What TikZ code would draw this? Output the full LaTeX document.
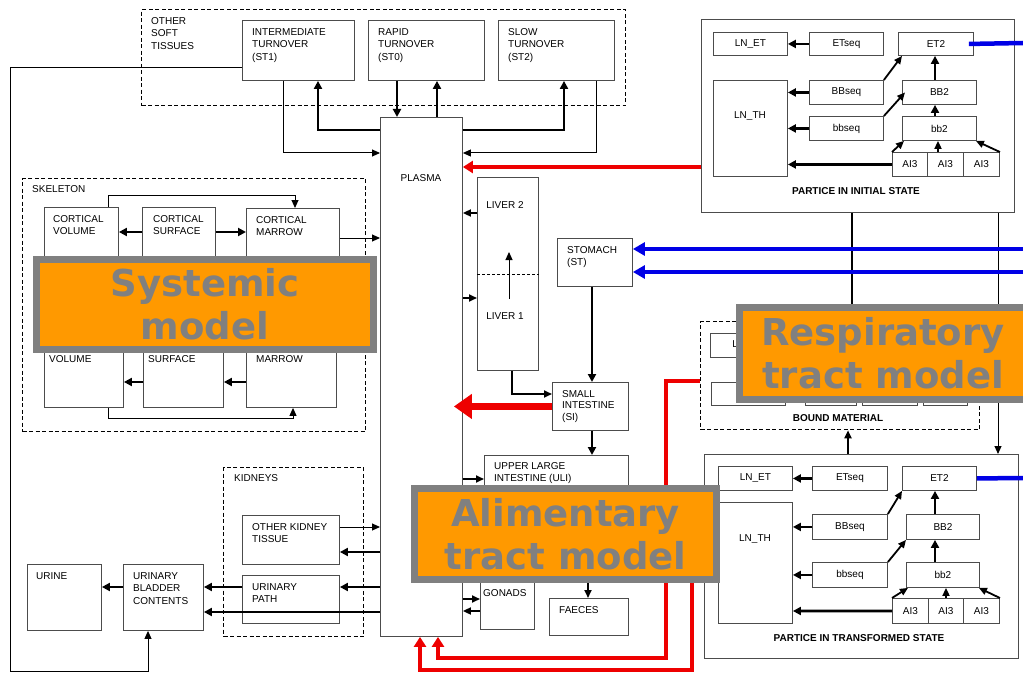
\documentclass[tikz,border=0pt]{standalone}
\usepackage{fontspec}
\setmainfont{Liberation Sans}
\newfontfamily\ovlfont{DejaVu Sans}
\usetikzlibrary{arrows.meta,calc}
\definecolor{ovlorange}{HTML}{FF9900}
\definecolor{ovlgrey}{HTML}{808080}
\definecolor{flowred}{HTML}{EE0000}
\definecolor{flowblue}{HTML}{0000E6}
\tikzset{
	box/.style={draw=black!70, line width=0.9pt, anchor=north west, inner sep=0pt, font=\fontsize{10}{12}\selectfont},
	grp/.style={draw=black, line width=1.3pt, dash pattern=on 4pt off 2.5pt, anchor=north west, inner sep=0pt},
	txt/.style={anchor=north west, inner sep=0pt, align=left, font=\fontsize{10}{12.8}\selectfont},
	captxt/.style={inner sep=0pt, font=\fontsize{10}{11}\selectfont\bfseries},
	ln/.style={line width=1pt, -{Triangle[length=8pt,width=7pt]}},
	midarr/.style={line width=1.8pt, -{Triangle[length=8pt,width=7pt]}},
	thk/.style={line width=2.6pt, -{Triangle[length=8pt,width=8pt]}},
	redln/.style={draw=flowred, line width=3.5pt, -{Triangle[length=10pt,width=12pt]}},
	bigred/.style={draw=flowred, line width=7.5pt, -{Triangle[length=18pt,width=24pt]}},
	blueln/.style={draw=flowblue, line width=4.5pt, -{Triangle[length=12pt,width=13pt]}},
	ovl/.style={draw=ovlgrey, fill=ovlorange, line width=7pt, inner sep=0pt, text=ovlgrey, align=center, font=\ovlfont\fontsize{37}{43}\selectfont\bfseries},
}
\begin{document}
\begin{tikzpicture}[x=1pt, y=-1pt]
			%%%%% START %%%%%
			\path[use as bounding box, fill=white] (0,0) rectangle (1023,674);
			
			% other soft tissues
			\node[grp, minimum width=484, minimum height=96] (ost) at (141,9) {};
			\node[txt] (ostt) at (151,17) {OTHER\\SOFT\\TISSUES};
			\node[box, minimum width=112, minimum height=60] (st1) at (242,20) {};
			\node[txt] (st1t) at (252,28) {INTERMEDIATE\\TURNOVER\\(ST1)};
			\node[box, minimum width=116, minimum height=60] (st0) at (368,20) {};
			\node[txt] (st0t) at (378,28) {RAPID\\TURNOVER\\(ST0)};
			\node[box, minimum width=116, minimum height=60] (st2) at (498,20) {};
			\node[txt] (st2t) at (508,28) {SLOW\\TURNOVER\\(ST2)};
			
			% plasma
			\node[box, minimum width=82, minimum height=519] (plasma) at (380,117) {};
			\node[txt, anchor=center] (plasmat) at (421,178) {PLASMA};
			
			% skeleton
			\node[grp, minimum width=343, minimum height=253] (skel) at (22,178) {};
			\node[txt] (skelt) at (32,185) {SKELETON};
			\node[box, minimum width=74, minimum height=85] (cv) at (44,207) {};
			\node[txt] (cvt) at (53,215) {CORTICAL\\VOLUME};
			\node[box, minimum width=73, minimum height=85] (cs) at (142,207) {};
			\node[txt] (cst) at (153,215) {CORTICAL\\SURFACE};
			\node[box, minimum width=93, minimum height=85] (cm) at (246,208) {};
			\node[txt] (cmt) at (256,216) {CORTICAL\\MARROW};
			\node[box, minimum width=79, minimum height=87] (tv) at (44,320) {};
			\node[txt] (tvt) at (49,355) {VOLUME};
			\node[box, minimum width=80, minimum height=87] (ts) at (143,320) {};
			\node[txt] (tst) at (148,355) {SURFACE};
			\node[box, minimum width=90, minimum height=87] (tm) at (246,320) {};
			\node[txt] (tmt) at (256,355) {MARROW};
			
			% kidneys and bladder
			\node[grp, minimum width=140, minimum height=169] (kid) at (223,467) {};
			\node[txt] (kidt) at (234,474) {KIDNEYS};
			\node[box, minimum width=97, minimum height=49] (okt) at (242,515) {};
			\node[txt] (oktt) at (252,523) {OTHER KIDNEY\\TISSUE};
			\node[box, minimum width=97, minimum height=48] (up) at (242,575) {};
			\node[txt] (upt) at (252,583) {URINARY\\PATH};
			\node[box, minimum width=74, minimum height=66] (urine) at (27,564) {};
			\node[txt] (urinet) at (36,572) {URINE};
			\node[box, minimum width=80, minimum height=66] (ubc) at (123,564) {};
			\node[txt] (ubct) at (133,572) {URINARY\\BLADDER\\CONTENTS};
			
			% liver and gut
			\node[box, minimum width=61, minimum height=193] (liver) at (477,177) {};
			\node[txt, anchor=center] (liver2t) at (505,205) {LIVER 2};
			\node[txt, anchor=center] (liver1t) at (505,316) {LIVER 1};
			\draw[line width=1pt, dash pattern=on 3pt off 2pt] (liver.west |- 0,274) -- (liver.east |- 0,274);
			\coordinate (lv1) at (509,299);
			\coordinate (lv2) at (509,252);
			\node[box, minimum width=75, minimum height=48] (stom) at (557,238) {};
			\node[txt] (stomt) at (567,246) {STOMACH\\(ST)};
			\node[box, minimum width=76, minimum height=48] (si) at (552,382) {};
			\node[txt, font=\fontsize{10}{11.8}\selectfont] (sit) at (562,390) {SMALL\\INTESTINE\\(SI)};
			\node[box, minimum width=144, minimum height=75] (uli) at (484,455) {};
			\node[txt] (ulit) at (494,462) {UPPER LARGE\\INTESTINE (ULI)};
			\node[box, minimum width=54, minimum height=89] (gon) at (480,540) {};
			\node[txt] (gont) at (483,589) {GONADS};
			\node[box, minimum width=79, minimum height=37] (faec) at (549,598) {};
			\node[txt] (faect) at (559,606) {FAECES};
			\coordinate (lliout) at (588,565);
			
			% respiratory, initial state
			\node[box, minimum width=313, minimum height=193] (init) at (701,19) {};
			\node[captxt] (initt) at (856,191) {PARTICE IN INITIAL STATE};
			\node[box, minimum width=74, minimum height=23] (iLNET) at (713,32) {LN\_ET};
			\node[box, minimum width=74, minimum height=23] (iETseq) at (809,32) {ETseq};
			\node[box, minimum width=75, minimum height=23] (iET2) at (898,32) {ET2};
			\node[box, minimum width=74, minimum height=96] (iLNTH) at (713,80) {};
			\node[txt, anchor=center] (iLNTHt) at (750,116) {LN\_TH};
			\node[box, minimum width=74, minimum height=24] (iBBseq) at (809,80) {BBseq};
			\node[box, minimum width=74, minimum height=24] (iBB2) at (902,80) {BB2};
			\node[box, minimum width=74, minimum height=24] (ibbseq) at (809,116) {bbseq};
			\node[box, minimum width=74, minimum height=24] (ibb2) at (902,116) {bb2};
			\node[box, minimum width=35, minimum height=24] (iAIa) at (892,152) {AI3};
			\node[box, minimum width=36, minimum height=24] (iAIb) at (927,152) {AI3};
			\node[box, minimum width=36, minimum height=24] (iAIc) at (963,152) {AI3};
			
			% respiratory, bound material
			\node[grp, minimum width=279, minimum height=108] (bm) at (700,321) {};
			\node[captxt] (bmt) at (838,418) {BOUND MATERIAL};
			\node[box, minimum width=75, minimum height=24] (bLNET) at (710,333) {LN\_ET};
			\node[box, minimum width=74, minimum height=23] (bA) at (711,382) {};
			\node[box, minimum width=51, minimum height=23] (bB) at (805,382) {};
			\node[box, minimum width=55, minimum height=23] (bC) at (862,382) {};
			\node[box, minimum width=44, minimum height=23] (bD) at (923,382) {};
			
			% respiratory, transformed state
			\node[box, minimum width=314, minimum height=204] (trans) at (704,454) {};
			\node[captxt] (transt) at (859,638) {PARTICE IN TRANSFORMED STATE};
			\node[box, minimum width=74, minimum height=24] (tLNET) at (718,466) {LN\_ET};
			\node[box, minimum width=75, minimum height=24] (tETseq) at (812,466) {ETseq};
			\node[box, minimum width=74, minimum height=24] (tET2) at (902,466) {ET2};
			\node[box, minimum width=74, minimum height=121] (tLNTH) at (718,502) {};
			\node[txt, anchor=center] (tLNTHt) at (755,539) {LN\_TH};
			\node[box, minimum width=75, minimum height=25] (tBBseq) at (812,514) {BBseq};
			\node[box, minimum width=73, minimum height=25] (tBB2) at (906,514) {BB2};
			\node[box, minimum width=75, minimum height=25] (tbbseq) at (812,562) {bbseq};
			\node[box, minimum width=73, minimum height=25] (tbb2) at (906,562) {bb2};
			\node[box, minimum width=36, minimum height=25] (tAIa) at (892,598) {AI3};
			\node[box, minimum width=35, minimum height=25] (tAIb) at (928,598) {AI3};
			\node[box, minimum width=36, minimum height=25] (tAIc) at (963,598) {AI3};
			
			\coordinate (edge1) at (1023,43);
			\coordinate (edge2) at (1023,249);
			\coordinate (edge3) at (1023,272);
			\coordinate (edge4) at (1023,478);
			\coordinate (redsrc) at (692,560);
			
			% soft tissue flows
			\draw[ln] (st1.south -| 283,0) |- (plasma.west |- 0,153);
			\draw[thk] (plasma.west |- 0,130) -| (st1.south -| 318,0);
			\draw[thk] (st0.south -| 397,0) -- (plasma.north -| 397,0);
			\draw[thk] (plasma.north -| 437,0) -- (st0.south -| 437,0);
			\draw[thk] (plasma.east |- 0,130) -| (st2.south -| 564,0);
			\draw[ln] (st2.south -| 596,0) |- (plasma.east |- 0,153);
			\draw[ln] (st1.west |- 0,68) -| (10,671) -| (ubc.south -| 148,0);
			
			% skeleton flows
			\draw[thk] (cs.west |- 0,232) -- (cv.east |- 0,232);
			\draw[thk] (cs.east |- 0,232) -- (cm.west |- 0,232);
			\draw[ln] (cv.north -| 108,0) |- (295,195) -- (cm.north -| 295,0);
			\draw[ln] (cm.east |- 0,238) -- (plasma.west |- 0,238);
			\draw[thk] (ts.west |- 0,382) -- (tv.east |- 0,382);
			\draw[thk] (tm.west |- 0,382) -- (ts.east |- 0,382);
			\draw[ln] (tv.south -| 108,0) |- (293,418) -- (tm.south -| 293,0);
			
			% kidney flows
			\draw[ln] (okt.east |- 0,527) -- (plasma.west |- 0,527);
			\draw[thk] (plasma.west |- 0,552) -- (okt.east |- 0,552);
			\draw[thk] (plasma.west |- 0,587) -- (up.east |- 0,587);
			\draw[thk] (plasma.west |- 0,612) -- (ubc.east |- 0,612);
			\draw[thk] (up.west |- 0,587) -- (ubc.east |- 0,587);
			\draw[thk] (ubc.west |- 0,587) -- (urine.east |- 0,587);
			
			% liver and gut flows
			\draw[midarr] (liver.west |- 0,213) -- (plasma.east |- 0,213);
			\draw[midarr] (plasma.east |- 0,298) -- (liver.west |- 0,298);
			\draw[ln] (lv1) -- (lv2);
			\draw[midarr] (liver.south -| 512,0) |- (si.west |- 0,394);
			\draw[thk] (stom.south -| 592,0) -- (si.north -| 592,0);
			\draw[thk] (si.south -| 592,0) -- (uli.north -| 592,0);
			\draw[midarr] (plasma.east |- 0,479) -- (uli.west |- 0,479);
			\draw[midarr] (plasma.east |- 0,599) -- (gon.west |- 0,599);
			\draw[midarr] (gon.west |- 0,611) -- (plasma.east |- 0,611);
			\draw[midarr] (lliout) -- (faec.north -| 588,0);
			\draw[bigred] (si.west) -- ([xshift=-9pt]plasma.east |- si.west);
			
			% respiratory flows
			\draw[thk] (iETseq.west) -- (iLNET.east);
			\draw[thk] (iBBseq.west) -- (iLNTH.east |- iBBseq.west);
			\draw[thk] (ibbseq.west) -- (iLNTH.east |- ibbseq.west);
			\draw[thk] (iAIa.west) -- (iLNTH.east |- iAIa.west);
			\draw[midarr] (iBBseq.north east) -- ([xshift=4pt]iET2.south west);
			\draw[midarr] (ibbseq.north east) -- ([xshift=3pt]iBB2.west);
			\draw[thk] (iBB2.north -| 935,0) -- (iET2.south -| 935,0);
			\draw[thk] (ibb2.north -| 935,0) -- (iBB2.south -| 935,0);
			\draw[midarr] (iAIa.north west) -- ([xshift=2pt]ibb2.south west);
			\draw[midarr] (iAIb.north -| 938,0) -- (ibb2.south -| 938,0);
			\draw[midarr] (iAIc.north east) -- ([xshift=-1pt]ibb2.south east);
			
			\draw[thk] (tETseq.west) -- (tLNET.east);
			\draw[thk] (tBBseq.west) -- (tLNTH.east |- tBBseq.west);
			\draw[thk] (tbbseq.west) -- (tLNTH.east |- tbbseq.west);
			\draw[thk] (tAIa.west) -- (tLNTH.east |- 0,611);
			\draw[midarr] (tBBseq.north east) -- (tET2.south west);
			\draw[midarr] (tbbseq.north east) -- (tBB2.south west);
			\draw[thk] (tBB2.north -| 935,0) -- (tET2.south -| 935,0);
			\draw[thk] (tbb2.north -| 935,0) -- (tBB2.south -| 935,0);
			\draw[midarr] (tAIa.north west) -- ([xshift=2pt]tbb2.south west);
			\draw[midarr] (tAIb.north -| 946,0) -- (tbb2.south -| 946,0);
			\draw[midarr] (tAIc.north east) -- ([xshift=-1pt]tbb2.south east);
			
			\draw[line width=1.8pt] (init.south -| 852,0) -- (bm.north -| 852,0);
			\draw[ln] (init.south -| 998,0) -- (trans.north -| 998,0);
			\draw[midarr] (trans.north -| 848,0) -- (bm.south -| 848,0);
			
			% intakes
			\draw[redln] (init.west |- 0,167) -- (plasma.east |- 0,167);
			\draw[redln] (bm.west |- 0,381) -| (666,658) -| (plasma.south -| 438,0);
			\draw[redln] (redsrc) |- (420,670) -- (plasma.south -| 420,0);
			\draw[blueln] (edge2) -- (stom.east |- edge2);
			\draw[blueln] (edge3) -- (stom.east |- edge3);
			\draw[draw=flowblue, line width=4.5pt] ([xshift=-5pt]iET2.east) -- (edge1);
			\draw[draw=flowblue, line width=4.5pt] (tET2.east) -- (edge4);
			
			% model labels
			\node[ovl, minimum width=337, minimum height=90] (sysm) at (205,304.5) {Systemic\\model};
			\node[ovl, minimum width=287, minimum height=92] (resm) at (883,353.5) {Respiratory\\tract model};
			\node[ovl, minimum width=302, minimum height=91] (alim) at (565.5,534) {Alimentary\\tract model};
			%%%%% END %%%%%
\end{tikzpicture}
\end{document}
